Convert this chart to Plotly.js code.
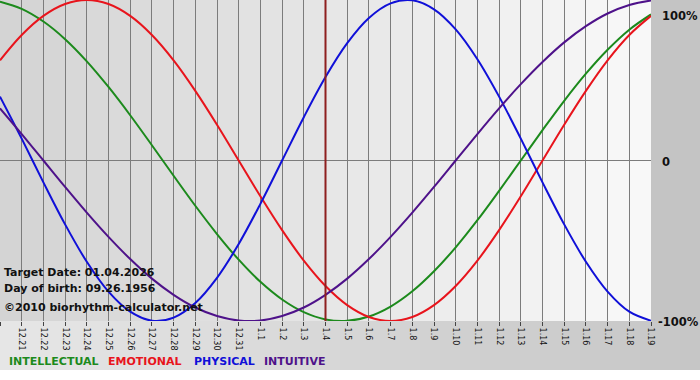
<!DOCTYPE html>
<html>
<head>
<meta charset="utf-8">
<script src="https://cdn.plot.ly/plotly-3.0.1.min.js"></script>
<style>html,body{margin:0;padding:0;background:#fff;}#chart{width:700px;height:380px;}</style>
</head>
<body>
<div id="chart"></div>
<script>
var days = ["12.20","12.21","12.22","12.23","12.24","12.25","12.26","12.27","12.28","12.29","12.30","12.31",
  "1.1","1.2","1.3","1.4","1.5","1.6","1.7","1.8","1.9","1.10","1.11","1.12","1.13","1.14","1.15","1.16","1.17","1.18","1.19"];
var intellectual = [0.990,0.945,0.866,0.756,0.618,0.458,0.282,0.095,-0.095,-0.282,-0.458,-0.618,-0.756,-0.866,-0.945,-0.990,
  -0.999,-0.972,-0.910,-0.815,-0.690,-0.541,-0.372,-0.189,0,0.189,0.372,0.541,0.690,0.815,0.910];
var emotional = [0.624,0.782,0.901,0.975,1.0,0.975,0.901,0.782,0.624,0.434,0.223,0,-0.223,-0.434,-0.624,-0.782,
  -0.901,-0.975,-1.0,-0.975,-0.901,-0.782,-0.624,-0.434,-0.223,0,0.223,0.434,0.624,0.782,0.901];
var physical = [0.398,0.136,-0.136,-0.398,-0.631,-0.817,-0.942,-0.998,-0.979,-0.888,-0.731,-0.520,-0.270,0,0.270,0.520,
  0.731,0.888,0.979,0.998,0.942,0.817,0.631,0.398,0.136,-0.136,-0.398,-0.631,-0.817,-0.942,-0.998];
var intuitive = [0.325,0.165,0,-0.165,-0.325,-0.476,-0.614,-0.736,-0.837,-0.916,-0.969,-0.997,-0.997,-0.969,-0.916,-0.837,
  -0.736,-0.614,-0.476,-0.325,-0.165,0,0.165,0.325,0.476,0.614,0.736,0.837,0.916,0.969,0.997];
var targetDay = "1.4";
var infoLines = ["Target Date: 01.04.2026","Day of birth: 09.26.1956","\u00a92010 biorhythm-calculator.net"];
var seriesNames = ["INTELLECTUAL","EMOTIONAL","PHYSICAL","INTUITIVE"];
var yLabels = ["100%","0","-100%"];

var colors = {INTELLECTUAL:"#1c8a1c", EMOTIONAL:"#e8141c", PHYSICAL:"#1010d8", INTUITIVE:"#4e128a"};
var W = 700, H = 380, L = 0, R = 49, T = 0, B = 59;
var PW = W - L - R, PH = H - T - B;
function px(x){ return (x - L) / PW; }
function py(y){ return (H - B - y) / PH; }
var FONT = "DejaVu Sans, Verdana, sans-serif";

var idx = days.map(function(d,i){return i;});
function tr(name, vals){
  return {x: idx, y: vals, type:"scatter", mode:"lines", name:name,
    line:{color:colors[name], width:2, shape:"spline", smoothing:1}, hoverinfo:"skip"};
}
var data = [tr("INTELLECTUAL", intellectual), tr("EMOTIONAL", emotional), tr("PHYSICAL", physical), tr("INTUITIVE", intuitive)];

var shapes = [];
// day column shading
for (var i = 0; i < days.length - 1; i++) {
  var g = Math.round(212 + (248 - 212) * i / (days.length - 2));
  var c = "rgb(" + g + "," + g + "," + g + ")";
  shapes.push({type:"rect", xref:"x", yref:"paper", x0:i, x1:i+1, y0:0, y1:1, fillcolor:c, line:{width:0}, layer:"below"});
}
// right panel
shapes.push({type:"rect", xref:"paper", yref:"paper", x0:1, x1:px(W), y0:0, y1:1, fillcolor:"#c4c4c4", line:{width:0}, layer:"below"});
// bottom band gradient
var strips = 35;
for (var s = 0; s < strips; s++) {
  var g2 = Math.round(230 - (230 - 198) * s / (strips - 1));
  var c2 = "rgb(" + g2 + "," + g2 + "," + g2 + ")";
  shapes.push({type:"rect", xref:"paper", yref:"paper", x0:px(W * s / strips), x1:px(W * (s + 1) / strips + 0.5),
    y0:py(370), y1:0, fillcolor:c2, line:{width:0}, layer:"below"});
}
// target day line
shapes.push({type:"line", xref:"x", yref:"paper", x0:days.indexOf(targetDay), x1:days.indexOf(targetDay), y0:0, y1:1,
  line:{color:"#8e1f1f", width:2}, layer:"above"});

var annotations = [];
var infoY = [272, 288, 307];
infoLines.forEach(function(t, k){
  annotations.push({xref:"paper", yref:"paper", x:px(2), y:py(infoY[k]), xanchor:"left", yanchor:"middle",
    text:t, showarrow:false, font:{family:FONT, size:11, color:"#111", weight:"bold"}});
});
var legX = [7, 106, 192, 262];
seriesNames.forEach(function(n, k){
  annotations.push({xref:"paper", yref:"paper", x:px(legX[k]), y:py(362), xanchor:"left", yanchor:"middle",
    text:n, showarrow:false, font:{family:FONT, size:11, color:colors[n], weight:"bold"}});
});
var yLabY = [16, 162, 322];
var yLabX = [660, 660, 656];
yLabels.forEach(function(t, k){
  annotations.push({xref:"paper", yref:"paper", x:px(yLabX[k]), y:py(yLabY[k]), xanchor:"left", yanchor:"middle",
    text:t, showarrow:false, font:{family:FONT, size:11.5, color:"#111", weight:"bold"}});
});

var layout = {
  width: W, height: H,
  margin: {l:L, r:R, t:T, b:B, pad:0},
  paper_bgcolor: "#ffffff",
  plot_bgcolor: "#dcdcdc",
  showlegend: false,
  xaxis: {range:[0, days.length - 1], tickmode:"array", tickvals:idx, ticktext:days, tickangle:90,
    showgrid:true, gridcolor:"#7c7c7c", gridwidth:1, zeroline:false,
    ticks:"outside", ticklen:4, tickcolor:"#444", showline:false,
    tickfont:{family:FONT, size:8, color:"#111"}, fixedrange:true},
  yaxis: {range:[-1, 1], showgrid:false, zeroline:true, zerolinecolor:"#7c7c7c", zerolinewidth:1,
    showticklabels:false, ticks:"", showline:false, fixedrange:true},
  shapes: shapes,
  annotations: annotations
};
Plotly.newPlot("chart", data, layout, {displayModeBar:false, staticPlot:true});
</script>
</body>
</html>
